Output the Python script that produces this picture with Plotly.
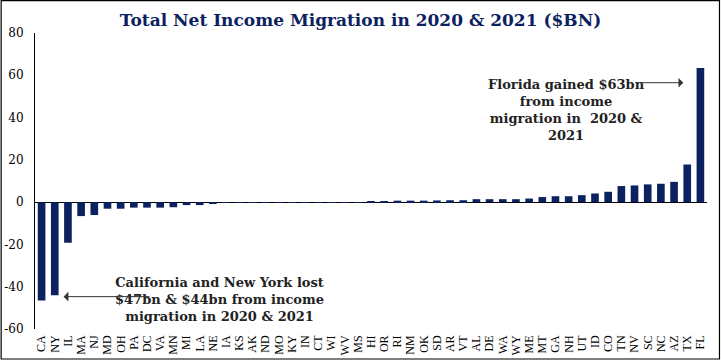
import plotly.graph_objects as go

states = ["CA", "NY", "IL", "MA", "NJ", "MD", "OH", "PA", "DC", "VA", "MN", "MI", "LA",
          "NE", "IA", "KS", "AK", "ND", "MO", "KY", "IN", "CT", "WI", "WV", "MS",
          "HI", "OR", "RI", "NM", "OK", "SD", "AR", "VT", "AL", "DE", "WA", "WY",
          "ME", "MT", "GA", "NH", "UT", "ID", "CO", "TN", "NV", "SC", "NC", "AZ", "TX", "FL"]
net_income_bn = [-46.5, -44.0, -19.2, -6.6, -6.1, -3.1, -3.1, -2.6, -2.6, -2.6, -2.4, -1.4, -1.4,
                 -0.5, -0.4, -0.4, -0.3, -0.3, -0.3, -0.3, -0.3, -0.3, -0.3, -0.3, -0.2,
                 0.3, 0.5, 0.7, 0.7, 0.7, 0.8, 0.9, 0.9, 1.4, 1.4, 1.4, 1.4,
                 1.7, 2.4, 2.8, 2.8, 3.3, 4.1, 4.9, 7.6, 7.9, 8.4, 8.7, 9.6, 17.8, 63.5]
y_tick_vals = [80, 60, 40, 20, 0, -20, -40, -60]
y_tick_text = ["80", "60", "40", "20", "0", "-20", "-40", "-60"]

title_text = "Total Net Income Migration in 2020 & 2021 ($BN)"
loss_note = "California and New York lost<br>$47bn & $44bn from income<br>migration in 2020 & 2021"
gain_note = "Florida gained $63bn<br>from income<br>migration in  2020 &<br>2021"

NAVY = "#0b2160"
SERIF = "DejaVu Serif"
SERIF2 = "Liberation Serif"

fig = go.Figure()
fig.add_trace(go.Bar(x=states, y=net_income_bn, marker=dict(color=NAVY, line=dict(width=0))))

W, H = 721, 360
ml, mr, mt, mb = 34.5, 13.5, 33, 31
pw, ph = W - ml - mr, H - mt - mb

fig.update_layout(
    width=W, height=H,
    margin=dict(l=ml, r=mr, t=mt, b=mb, pad=0),
    paper_bgcolor="white", plot_bgcolor="white",
    bargap=0.42,
    showlegend=False,
    font=dict(family=SERIF, color="black"),
    title=dict(text="<b>" + title_text + "</b>", x=0.5, xanchor="center",
               y=1 - 20 / H, yanchor="middle",
               font=dict(family=SERIF, size=17, color=NAVY)),
    xaxis=dict(type="category", tickangle=-90, showline=False, showgrid=False,
               tickmode="array", tickvals=states, ticktext=states,
               ticks="", ticklabelstandoff=3,
               tickfont=dict(family=SERIF2, size=12, color="black"),
               automargin=False),
    yaxis=dict(range=[-60, 80], tickvals=y_tick_vals, ticktext=y_tick_text,
               showgrid=False, showline=True, linecolor="black", linewidth=1,
               zeroline=True, zerolinecolor="black", zerolinewidth=1.2,
               ticks="", ticklabelstandoff=8,
               tickfont=dict(family=SERIF, size=12, color="black"), automargin=False),
)

# text annotations
fig.add_annotation(x=13.52, y=-46.1, xref="x", yref="y", text="<b>" + loss_note + "</b>",
                   showarrow=False, align="center",
                   font=dict(family=SERIF, size=13, color="#222222"))
fig.add_annotation(x=39.8, y=43.7, xref="x", yref="y", text="<b>" + gain_note + "</b>",
                   showarrow=False, align="center",
                   font=dict(family=SERIF, size=13, color="#222222"))

# arrows
fig.add_annotation(x=1.67, y=-44.7, ax=8.3, ay=-44.7, xref="x", yref="y", axref="x", ayref="y",
                   text="", showarrow=True, arrowhead=1, arrowsize=1.6, arrowwidth=1,
                   arrowcolor="#333333")
fig.add_annotation(x=48.7, y=56.5, ax=45.4, ay=56.5, xref="x", yref="y", axref="x", ayref="y",
                   text="", showarrow=True, arrowhead=1, arrowsize=1.6, arrowwidth=1,
                   arrowcolor="#333333")

# outer frame
fig.add_shape(type="rect", xref="paper", yref="paper",
              x0=(0.6 - ml) / pw, x1=(W - 1.0 - ml) / pw,
              y0=(H - mb - (H - 1.0)) / ph, y1=(H - mb - 0.6) / ph,
              line=dict(color="black", width=1.2), fillcolor="rgba(0,0,0,0)", layer="above")

fig.write_html("out.html", config={"displayModeBar": False},
               post_script="document.body.style.margin='0';document.body.style.overflow='hidden';")
